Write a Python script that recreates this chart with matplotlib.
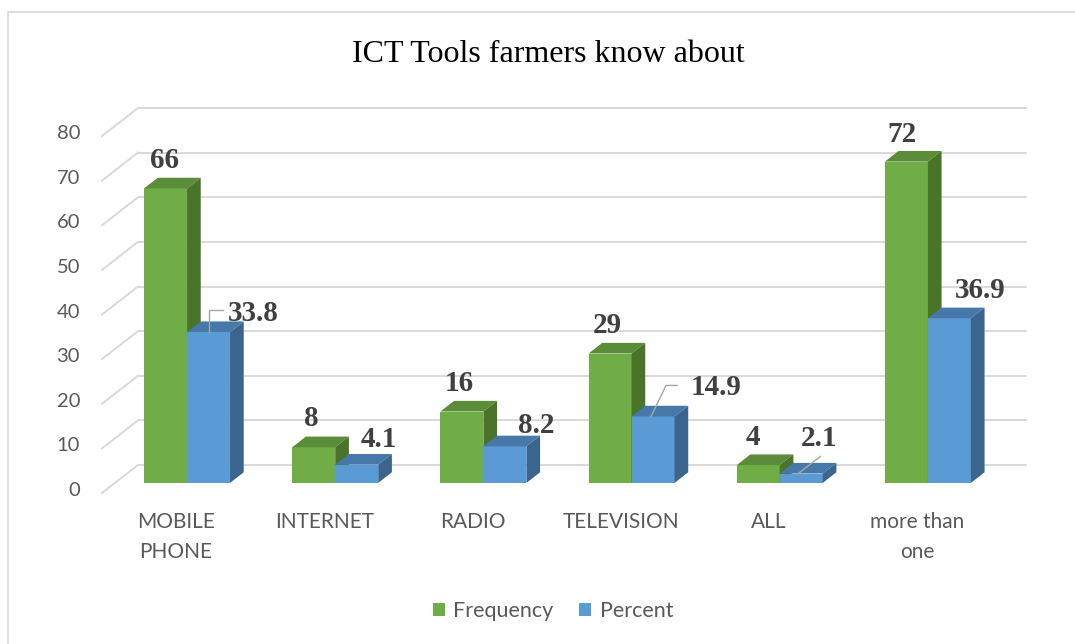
import matplotlib
matplotlib.use("Agg")
import matplotlib.pyplot as plt
from matplotlib.patches import Polygon, Patch, Rectangle

# ---- data ----
categories = ["MOBILE\nPHONE", "INTERNET", "RADIO", "TELEVISION", "ALL", "more than\none"]
frequency = [66, 8, 16, 29, 4, 72]
percent = [33.8, 4.1, 8.2, 14.9, 2.1, 36.9]
y_ticks = [0, 10, 20, 30, 40, 50, 60, 70, 80]
title = "ICT Tools farmers know about"

# ---- colours ----
GREEN = ("#70AD47", "#5B8C39", "#4A7428")   # front, top, side
BLUE = ("#5B9BD5", "#4679AA", "#3B658C")
GRID = "#D9D9D9"
TEXT = "#595959"
LABEL = "#404040"

W, H = 1075, 644
fig = plt.figure(figsize=(W / 100, H / 100), dpi=100)
ax = fig.add_axes([0, 0, 1, 1])
ax.set_axis_off()

# pixel-based scale of the plot: one category = 148.17 px, one value unit = 4.4625 px
PX_CAT = 148.17
PX_VAL = 4.4625
SX, SY = 1 / PX_CAT, 1 / PX_VAL
FRONT_LEFT_PX, FRONT_ZERO_PX = 102, 493
ax.set_xlim(-0.5 - FRONT_LEFT_PX * SX, -0.5 + (W - FRONT_LEFT_PX) * SX)
ax.set_ylim(-(H - FRONT_ZERO_PX) * SY, FRONT_ZERO_PX * SY)

# oblique projection of depth
DX, DY = 36 * SX, 28 * SY           # full floor depth
BAR_D0, BAR_D1 = 0.36, 0.74          # bar depth span
BAR_W = 43 * SX
BAR_SHIFT = -2 * SX
n = len(categories)

# back wall gridlines and left wall diagonals
for v in y_ticks:
    ax.plot([-0.5 + DX, n - 0.5 + DX], [v + DY, v + DY], color=GRID, lw=1.4,
            solid_capstyle="butt", zorder=1)
    ax.plot([-0.5, -0.5 + DX], [v, v + DY], color=GRID, lw=1.4, zorder=1)
    ax.text(-0.5 - 22 * SX, v + 2.5 * SY, f"{v}", ha="right", va="center",
            fontsize=14.5, color=TEXT, family="Lato")


def bar3d(x0, value, colors):
    front, top, side = colors
    ox0, oy0 = DX * BAR_D0, DY * BAR_D0
    dd = BAR_D1 - BAR_D0
    ddx, ddy = DX * dd, DY * dd
    xl = x0 + ox0
    xr = xl + BAR_W
    yb = oy0
    yt = oy0 + value
    ax.add_patch(Polygon([(xl, yb), (xr, yb), (xr, yt), (xl, yt)], closed=True,
                         facecolor=front, edgecolor="none", zorder=3))
    ax.add_patch(Polygon([(xl, yt), (xr, yt), (xr + ddx, yt + ddy), (xl + ddx, yt + ddy)],
                         closed=True, facecolor=top, edgecolor="none", zorder=3))
    ax.add_patch(Polygon([(xr, yb), (xr + ddx, yb + ddy), (xr + ddx, yt + ddy), (xr, yt)],
                         closed=True, facecolor=side, edgecolor="none", zorder=3))
    # front-top centre point (anchor for labels)
    return (xl + xr) / 2, yt


# label offsets from the bar's front-top centre, in pixels (dx right, dy up)
green_label_off = [(-1, 28), (-2, 29), (-3, 28), (-3, 28), (-5, 28), (-4, 27)]
blue_label_off = [(45, 19), (22, 25), (31, 21), (63, 29), (18, 35), (31, 28)]
# leader lines for moved labels (pixel offsets from the bar anchor)
leaders = {0: [(0, 0), (0, 22), (14, 22)],
           3: [(-2, 0), (13, 31), (24, 31)],
           4: [(-3, 0), (19, 17)]}

for i in range(n):
    gx, gy = bar3d(i + BAR_SHIFT - BAR_W, frequency[i], GREEN)
    bx, by = bar3d(i + BAR_SHIFT, percent[i], BLUE)
    odx, ody = green_label_off[i]
    ax.text(gx + odx * SX, gy + ody * SY, f"{frequency[i]}", ha="center", va="center",
            fontsize=21, fontweight="bold", color=LABEL, family="Liberation Serif", zorder=5)
    odx, ody = blue_label_off[i]
    ax.text(bx + odx * SX, by + ody * SY, f"{percent[i]}", ha="center", va="center",
            fontsize=21, fontweight="bold", color=LABEL, family="Liberation Serif", zorder=5)
    if i in leaders:
        pts = leaders[i]
        ax.plot([bx + p[0] * SX for p in pts], [by + p[1] * SY for p in pts],
                color="#A6A6A6", lw=1.0, zorder=6)

# category labels on the front edge of the floor
for i, c in enumerate(categories):
    ax.text(i, -19 * SY, c, ha="center", va="top", fontsize=15, color=TEXT,
            family="Lato", linespacing=1.6)

# title
fig.text(548 / W, 1 - 62 / H, title, ha="center", va="baseline", fontsize=23,
         family="Liberation Serif", color="black")

# legend
handles = [Patch(facecolor=GREEN[0], edgecolor="none", label="Frequency"),
           Patch(facecolor=BLUE[0], edgecolor="none", label="Percent")]
leg = fig.legend(handles=handles, loc="center", bbox_to_anchor=(553 / W, 1 - 611 / H),
                 ncol=2, frameon=False, handlelength=0.55, handleheight=0.55,
                 handletextpad=0.4, columnspacing=1.2,
                 prop={"family": "Lato", "size": 15.5})
for t in leg.get_texts():
    t.set_color(TEXT)

# chart border
fig.add_artist(Rectangle((8 / W, -0.1), 1.2, 1 - 12 / H + 0.1, transform=fig.transFigure,
                         facecolor="none", edgecolor=GRID, lw=1.2))

fig.savefig("out.png", dpi=100, facecolor="white")
